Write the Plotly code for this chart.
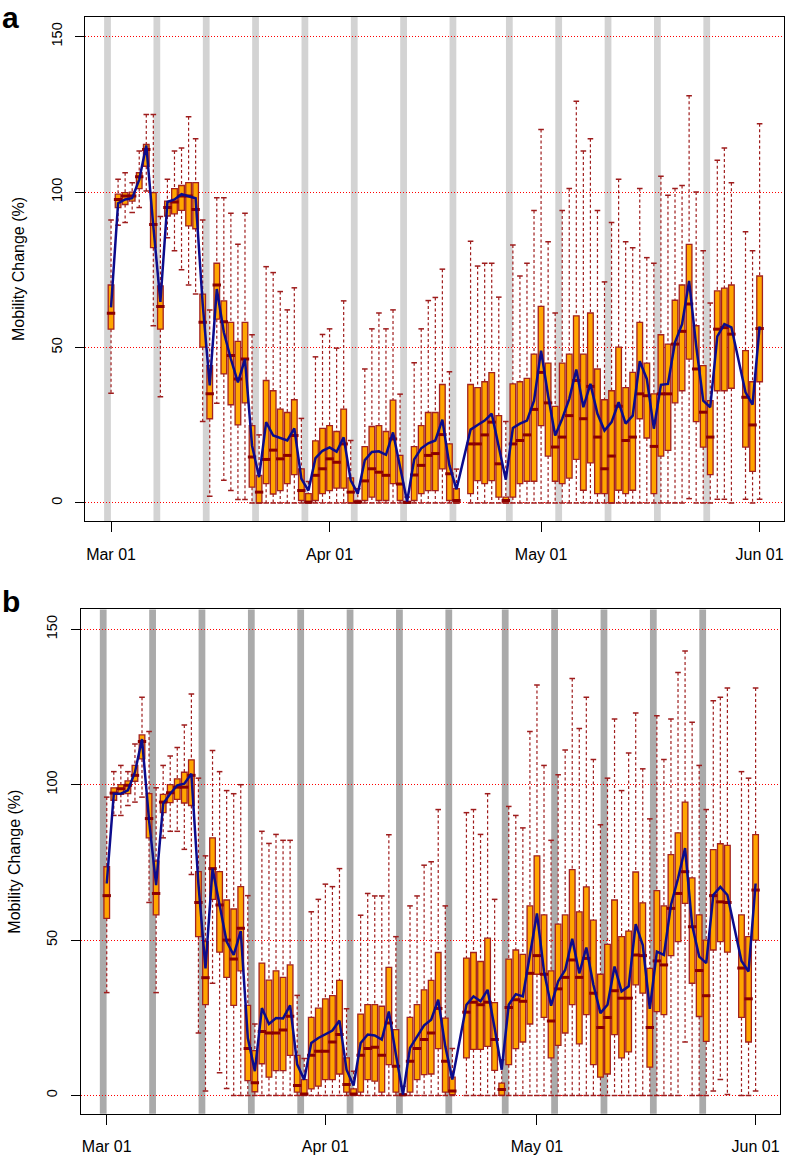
import plotly.graph_objects as go
import pandas as pd

# ---------------- data ----------------
START = "2020-03-01"
END = "2020-06-01"
MISSING = ["2020-04-20", "2020-05-29"]
DATES = [d.strftime("%Y-%m-%d") for d in pd.date_range(START, END)
         if d.strftime("%Y-%m-%d") not in MISSING]

TICK_DATES = ["2020-03-01", "2020-04-01", "2020-05-01", "2020-06-01"]
TICK_LABELS = ["Mar 01", "Apr 01", "May 01", "Jun 01"]
Y_TICKS = [0, 50, 100, 150]

# shaded week markers (grey vertical bars)
GRAY_BARS = ["2020-02-29 12:00", "2020-03-07 12:00", "2020-03-14 12:00", "2020-03-21 12:00",
             "2020-03-28 12:00", "2020-04-04 12:00", "2020-04-11 12:00", "2020-04-18 12:00",
             "2020-04-26 12:00", "2020-05-03 12:00", "2020-05-10 12:00", "2020-05-17 12:00",
             "2020-05-24 12:00"]

# ---- panel a ----
A_LO = [35.3, 89.3, 90.2, 93.4, 95.0, 100.3, 57.0, 34.2, 85.3, 81.1, 75.0, 70.1, 67.2, 26.2, 2.2, 32.1,
        7.3, 4.0, 1.1, 1.1, 0, 0, 0, 0, 0, 0, 0, 0, 0, 0, 0, 0, 0, 0, 0, 0, 0, 0, 0, 0, 0, 0, 0, 0, 0, 0,
        0, 0, 0, 0,
        0, 0, 0, 0, 0, 0, 0, 0, 0, 0, 0, 0, 0, 0, 0, 0, 0, 0, 0, 0, 0, 0, 0, 0, 0, 0, 0, 0, 0, 0, 0, 1.4,
        0, 0, 0, 1.2, 1.2, 0,
        1.2, 0, 1.2]
A_Q1 = [55.9, 95.0, 96.0, 97.1, 101.1, 108.3, 82.1, 55.9, 92.3, 93.0, 94.1, 89.1, 88.2, 50.1, 27.1, 59.1,
        41.5, 31.6, 25.1, 32.2, 5.1, 0, 6.2, 2.9, 4.0, 6.2, 9.1, 0.8, 0, 0.8, 3.0, 4.0, 4.8, 4.8, 0, 0,
        0.8, 1.9, 0.8, 0.8, 6.2, 0.8, 0, 0.8, 3.0, 4.0, 4.0, 11.0, 0.8, 0,
        3.0, 7.2, 6.2, 7.2, 1.9, 0, 1.9, 6.2, 7.0, 7.0, 24.9, 15.1, 7.0, 6.2, 8.0, 14.0, 4.1, 12.9, 3.0,
        3.0, 0, 4.1, 3.0, 4.1, 27.1, 20.9, 3.0, 15.1, 16.9, 32.2, 36.1, 46.3, 26.2, 18.0, 9.1, 36.1,
        36.1, 36.9,
        18.0, 10.2, 39.0]
A_MED = [61.0, 97.6, 98.7, 98.7, 104.9, 113.7, 89.6, 63.2, 95.0, 96.8, 98.7, 98.7, 94.4, 58.1, 35.1, 70.1,
         58.3, 47.4, 39.9, 46.3, 14.8, 3.5, 14.0, 17.0, 14.2, 15.3, 21.7, 4.0, 0.3, 8.9, 11.0, 14.2, 13.1,
         19.0, 3.5, 0.3, 7.1, 11.0, 9.9, 8.9, 20.6, 6.1, 0.2, 9.0, 12.1, 15.3, 15.9, 22.0, 9.4, 0.8,
         19.0, 19.0, 21.9, 26.0, 12.6, 0.8, 19.0, 20.1, 21.9, 30.1, 42.0, 32.2, 18.0, 21.2, 28.1, 39.4,
         27.1, 37.5, 21.2, 11.0, 15.1, 31.1, 20.1, 21.2, 35.1, 34.5, 18.2, 35.1, 35.1, 51.1, 55.2, 64.0,
         43.1, 29.2, 21.2, 55.9, 56.4, 54.3,
         34.0, 25.1, 56.1]
A_Q3 = [70.1, 99.3, 99.8, 100.0, 106.2, 115.3, 99.8, 69.8, 97.1, 101.1, 102.1, 103.0, 103.0, 67.2, 44.2,
        77.1, 65.0, 58.1, 52.0, 58.1, 24.9, 8.9, 39.4, 36.1, 30.2, 29.1, 33.2, 11.0, 3.0, 20.0, 24.0, 24.9,
        23.0, 30.2, 8.1, 0.8, 18.1, 24.6, 24.9, 23.0, 33.1, 15.3, 0.5, 18.1, 24.9, 29.1, 29.1, 38.1, 19.0,
        4.6,
        38.1, 37.1, 39.0, 41.9, 28.1, 1.9, 38.3, 39.0, 40.1, 47.9, 63.2, 45.0, 31.1, 45.0, 47.9, 60.2,
        47.9, 61.1, 43.1, 33.2, 36.1, 50.1, 37.1, 42.0, 58.1, 45.0, 35.1, 54.1, 51.1, 65.2, 70.1, 83.2,
        57.0, 44.2, 32.9, 68.2, 69.1, 70.1,
        49.0, 39.0, 73.0]
A_HI = [91.0, 104.1, 106.2, 103.0, 113.2, 124.9, 124.9, 92.1, 104.1, 113.2, 114.2, 124.2, 117.1, 91.0, 62.1,
        98.2, 98.2, 93.2, 83.2, 93.2, 54.1, 21.9, 76.0, 74.1, 68.0, 62.1, 69.2, 27.2, 6.9, 47.0, 54.2, 56.0,
        49.8, 65.0, 20.1, 4.6, 43.1, 56.0, 61.1, 56.0, 62.1, 35.0, 1.9, 45.1, 56.0, 65.1, 66.1, 75.2, 42.2,
        10.9,
        84.2, 76.2, 77.1, 77.1, 66.2, 26.2, 83.0, 73.0, 77.1, 94.1, 120.1, 84.0, 61.1, 94.1, 101.1, 129.2,
        113.2, 117.1, 94.1, 71.1, 90.2, 104.1, 84.0, 82.1, 101.1, 78.9, 77.1, 105.1, 99.0, 101.1, 102.1,
        131.0, 100.0, 81.1, 64.3, 110.2, 114.2, 103.0,
        87.2, 81.1, 122.0]
A_MEAN = [62.9, 96.4, 97.6, 98.0, 104.0, 115.0, 89.0, 64.7, 96.8, 97.6, 99.3, 98.7, 98.0, 64.0, 37.8, 68.8,
          54.9, 46.3, 38.8, 46.3, 18.5, 8.3, 26.0, 21.7, 20.8, 20.1, 24.0, 7.8, 4.0, 14.4, 16.8, 17.9, 16.5,
          21.1, 7.3, 3.0, 13.8, 16.4, 16.6, 15.5, 22.7, 12.1, 0.5, 14.0, 17.6, 19.2, 20.1, 26.8, 12.1, 4.4,
          23.6, 25.1, 26.5, 28.7, 18.5, 7.5, 24.1, 25.5, 26.5, 32.9, 49.0, 34.5, 21.7, 27.1, 33.5, 42.9,
          30.8, 38.3, 28.7, 23.3, 26.0, 32.4, 25.5, 28.1, 45.6, 39.9, 23.9, 38.0, 38.3, 51.7, 57.5, 71.4,
          50.6, 32.9, 30.8, 53.6, 57.5, 56.5,
          35.6, 31.6, 56.8]

# ---- panel b ----
B_LO = [33.1, 90.1, 90.1, 93.3, 94.4, 96.0, 62.1, 33.1, 82.9, 85.0, 85.0, 79.2, 71.1, 20.1, 1.4, 36.1,
        7.3, 2.2, 0, 0, 0, 0, 0, 0, 0, 0, 0, 0, 0, 0, 0, 0, 0, 0, 0, 0, 0, 0, 0, 0, 0, 0, 0, 0, 0, 0,
        0, 0, 0, 0,
        0, 0, 0, 0, 0, 0, 0, 0, 0, 0, 0, 0, 0, 0, 0, 0, 0, 0, 0, 0, 0, 0, 0, 0, 0, 0, 0, 0, 0, 0, 0, 17.2,
        0, 0, 0, 1.4, 5.1, 0.3,
        0, 0, 1.4]
B_Q1 = [57.0, 95.0, 96.9, 97.1, 101.1, 108.3, 82.9, 58.1, 91.0, 94.2, 95.3, 94.1, 93.3, 51.1, 29.2, 63.1,
        46.1, 38.0, 29.0, 40.1, 4.8, 1.2, 10.2, 5.9, 8.0, 8.0, 12.9, 1.1, 0, 2.1, 3.0, 5.1, 5.1, 6.9, 1.1,
        0, 1.1, 5.1, 4.6, 1.1, 9.9, 1.1, 0, 1.1, 5.1, 6.7, 6.9, 15.1, 1.1, 0.3,
        12.1, 14.8, 14.8, 15.8, 8.1, 0, 9.9, 15.1, 17.2, 23.0, 39.0, 25.1, 12.1, 16.1, 20.1, 29.2, 16.6,
        26.0, 9.9, 5.9, 6.9, 19.6, 12.1, 14.0, 35.6, 32.9, 9.1, 27.0, 26.0, 45.0, 49.5, 61.8, 36.1, 25.4,
        17.4, 46.8, 49.5, 46.1,
        25.1, 17.2, 50.0]
B_MED = [64.3, 97.3, 98.7, 99.8, 103.0, 113.9, 89.1, 65.0, 94.4, 97.4, 99.2, 99.2, 103.0, 62.1, 37.9, 73.0,
         61.3, 50.0, 43.9, 53.8, 15.1, 4.1, 20.6, 20.1, 20.1, 21.1, 25.5, 3.2, 0.5, 12.9, 14.2, 14.2, 17.2,
         19.6, 3.5, 0.5, 12.9, 15.1, 15.5, 12.9, 23.3, 9.4, 0.2, 11.0, 15.1, 18.0, 20.1, 28.0, 11.0, 1.4,
         26.8, 30.0, 29.2, 30.0, 18.0, 1.9, 28.3, 30.8, 30.3, 39.3, 45.0, 39.0, 24.0, 34.3, 38.0, 43.6,
         38.0, 44.1, 32.9, 21.9, 25.1, 33.7, 31.3, 31.3, 45.2, 45.0, 21.9, 43.3, 42.0, 60.2, 65.0, 72.0,
         54.3, 40.2, 32.1, 64.3, 62.3, 62.1,
         41.0, 31.1, 66.1]
B_Q3 = [73.6, 99.0, 100.0, 101.2, 106.2, 116.0, 97.1, 75.4, 96.9, 100.0, 101.9, 104.0, 108.0, 72.0, 49.5,
        82.9, 72.0, 62.9, 60.0, 67.2, 29.0, 14.4, 42.6, 37.1, 40.1, 38.0, 42.0, 12.9, 5.1, 25.1, 28.1, 31.1,
        32.1, 37.0, 12.1, 2.1, 26.2, 29.2, 29.2, 28.7, 41.2, 21.2, 0.5, 25.1, 29.2, 34.0, 37.0, 46.0, 24.9,
        5.9,
        44.2, 46.0, 43.1, 50.6, 29.9, 4.0, 43.9, 46.8, 45.4, 61.0, 77.1, 58.1, 40.1, 55.1, 58.1, 72.7,
        59.1, 67.1, 56.4, 39.0, 48.6, 62.9, 51.1, 52.9, 71.9, 62.0, 40.9, 65.9, 61.0, 77.5, 84.5, 94.4,
        70.0, 58.1, 50.0, 79.1, 81.0, 80.5,
        58.1, 51.1, 83.9]
B_HI = [96.0, 104.2, 106.2, 104.2, 113.1, 128.1, 117.1, 99.0, 106.2, 109.2, 112.0, 119.2, 129.2, 102.1, 77.1,
        111.0, 104.2, 98.1, 97.1, 100.0, 64.3, 23.0, 85.0, 81.1, 84.0, 82.1, 82.1, 32.2, 11.9, 59.1, 63.1,
        68.0, 67.2, 73.0, 27.9, 7.8, 58.0, 65.0, 64.2, 64.2, 83.9, 51.1, 3.0, 61.0, 64.2, 74.1, 75.2, 92.0,
        61.0, 15.1,
        91.0, 92.0, 84.0, 97.1, 63.1, 11.5, 93.0, 90.1, 86.1, 117.1, 132.1, 106.2, 82.1, 103.2, 111.2,
        134.2, 118.1, 128.1, 108.1, 87.1, 102.1, 121.1, 98.1, 110.2, 123.1, 105.1, 89.0, 122.2, 108.1,
        121.1, 136.1, 143.0, 120.1, 106.2, 92.0, 127.0, 128.1, 131.1,
        104.2, 102.1, 131.1]
B_MEAN = [68.2, 97.1, 97.1, 98.2, 104.0, 114.7, 88.5, 67.7, 93.9, 97.1, 99.8, 100.3, 103.5, 68.0, 40.9, 73.0,
          61.3, 49.5, 45.2, 52.9, 18.5, 7.8, 28.1, 23.0, 24.9, 24.8, 29.0, 10.0, 5.1, 16.9, 18.5, 19.8,
          20.9, 24.1, 8.3, 3.2, 16.9, 19.6, 19.3, 18.0, 27.0, 13.2, 0.3, 15.3, 19.0, 22.6, 24.4, 30.8, 15.8,
          5.1,
          29.2, 31.9, 30.3, 34.0, 21.7, 8.3, 29.2, 32.6, 31.9, 44.7, 58.6, 39.9, 28.9, 36.7, 40.4, 50.4,
          39.3, 47.6, 35.6, 26.5, 29.2, 41.5, 33.5, 35.1, 55.1, 48.4, 27.9, 46.3, 45.2, 61.3, 69.8, 79.6,
          54.8, 44.7, 42.6, 64.5, 67.1, 64.5,
          43.3, 39.9, 68.2]

# ---------------- style ----------------
FONT = "Liberation Sans, Arial, sans-serif"
ORANGE = "#FFA500"
BORDER = "#A3221F"
WHISK = "#9E1C1C"
MEDIAN = "#8B0000"
NAVY = "#0C0C8C"
GRAY_A = "#D3D3D3"
GRAY_B = "#AAAAAA"
W, H = 786, 1155
DAY_MS = 86400000

fig = go.Figure()


def add_panel(xa, ya, lo, q1, med, q3, hi, mean):
    wx, wy = [], []
    for d, l, a, b, h in zip(DATES, lo, q1, q3, hi):
        wx += [d, d, None, d, d, None]
        wy += [h, b, None, a, l, None]
    fig.add_trace(go.Scatter(x=wx, y=wy, mode="lines", xaxis=xa, yaxis=ya,
                             line=dict(color=WHISK, width=1.2, dash="3px,2.5px"),
                             hoverinfo="skip", showlegend=False))
    fig.add_trace(go.Scatter(x=DATES + DATES, y=list(hi) + list(lo), mode="markers",
                             xaxis=xa, yaxis=ya,
                             marker=dict(symbol="line-ew", size=4, color=WHISK,
                                         line=dict(width=1.5, color=WHISK)),
                             hoverinfo="skip", showlegend=False))
    fig.add_trace(go.Box(x=DATES, q1=q1, median=med, q3=q3, lowerfence=q1, upperfence=q3,
                         xaxis=xa, yaxis=ya, fillcolor=ORANGE,
                         line=dict(color=BORDER, width=1.3), width=0.8 * DAY_MS,
                         whiskerwidth=0, boxpoints=False, hoverinfo="skip", showlegend=False))
    fig.add_trace(go.Scatter(x=DATES, y=med, mode="markers", xaxis=xa, yaxis=ya,
                             marker=dict(symbol="line-ew", size=6, color=MEDIAN,
                                         line=dict(width=3, color=MEDIAN)),
                             hoverinfo="skip", showlegend=False))
    fig.add_trace(go.Scatter(x=DATES, y=mean, mode="lines", xaxis=xa, yaxis=ya,
                             line=dict(color=NAVY, width=2.5),
                             hoverinfo="skip", showlegend=False))


add_panel("x", "y", A_LO, A_Q1, A_MED, A_Q3, A_HI, A_MEAN)
add_panel("x2", "y2", B_LO, B_Q1, B_MED, B_Q3, B_HI, B_MEAN)

# grey week bars
shapes = []
for xa, ya, col in (("x", "y", GRAY_A), ("x2", "y2", GRAY_B)):
    for c in GRAY_BARS:
        t = pd.Timestamp(c)
        shapes.append(dict(type="rect", xref=xa, yref=ya + " domain",
                           x0=(t - pd.Timedelta(hours=11.5)).strftime("%Y-%m-%d %H:%M:%S"),
                           x1=(t + pd.Timedelta(hours=11.5)).strftime("%Y-%m-%d %H:%M:%S"),
                           y0=0, y1=1, fillcolor=col, line=dict(width=0), layer="below"))

t0 = pd.Timestamp(START)
xr = [(t0 - pd.Timedelta(days=3.65)).strftime("%Y-%m-%d %H:%M:%S"),
      (t0 + pd.Timedelta(days=95.46)).strftime("%Y-%m-%d %H:%M:%S")]


def xaxis(dom, anchor):
    return dict(domain=dom, anchor=anchor, type="date", range=xr,
                tickvals=TICK_DATES, ticktext=TICK_LABELS,
                ticks="outside", ticklen=10, tickwidth=1, tickcolor="black",
                showline=True, linecolor="black", linewidth=1, mirror=True,
                showgrid=False, zeroline=False, ticklabelstandoff=8,
                tickfont=dict(size=16, family=FONT, color="black"))


def yaxis(dom, anchor):
    return dict(domain=dom, anchor=anchor, range=[-5.9, 156.4], tickvals=Y_TICKS,
                ticks="outside", ticklen=9, tickwidth=1, tickcolor="black", tickangle=-90,
                showline=True, linecolor="black", linewidth=1, mirror=True,
                showgrid=True, gridcolor="#FF0000", griddash="1px,2px", gridwidth=1,
                zeroline=False, ticklabelstandoff=8,
                tickfont=dict(size=14.5, family=FONT, color="black"))


fig.update_layout(
    width=W, height=H, margin=dict(l=0, r=0, t=0, b=0),
    paper_bgcolor="white", plot_bgcolor="white", showlegend=False,
    xaxis=xaxis([85.3 / W, 784 / W], "y"),
    yaxis=yaxis([1 - 522.7 / H, 1 - 16.7 / H], "x"),
    xaxis2=xaxis([81 / W, 780 / W], "y2"),
    yaxis2=yaxis([1 - 1116.7 / H, 1 - 611 / H], "x2"),
    shapes=shapes,
    annotations=[
        dict(text="<b>a</b>", x=1 / W, y=1, xref="paper", yref="paper",
             xanchor="left", yanchor="top", showarrow=False, borderpad=0,
             font=dict(size=30, family=FONT, color="black")),
        dict(text="<b>b</b>", x=0 / W, y=1 - 603 / H, xref="paper", yref="paper",
             xanchor="left", yanchor="middle", showarrow=False,
             font=dict(size=30, family=FONT, color="black")),
        dict(text="Mobility Change (%)", x=19 / W, y=1 - 269.7 / H, xref="paper", yref="paper",
             xanchor="center", yanchor="middle", textangle=-90, showarrow=False,
             font=dict(size=16, family=FONT, color="black")),
        dict(text="Mobility Change (%)", x=15 / W, y=1 - 863.9 / H, xref="paper", yref="paper",
             xanchor="center", yanchor="middle", textangle=-90, showarrow=False,
             font=dict(size=16, family=FONT, color="black")),
    ],
)

fig.write_html("out.html", config={"displayModeBar": False},
               post_script="document.body.style.margin='0px';")
